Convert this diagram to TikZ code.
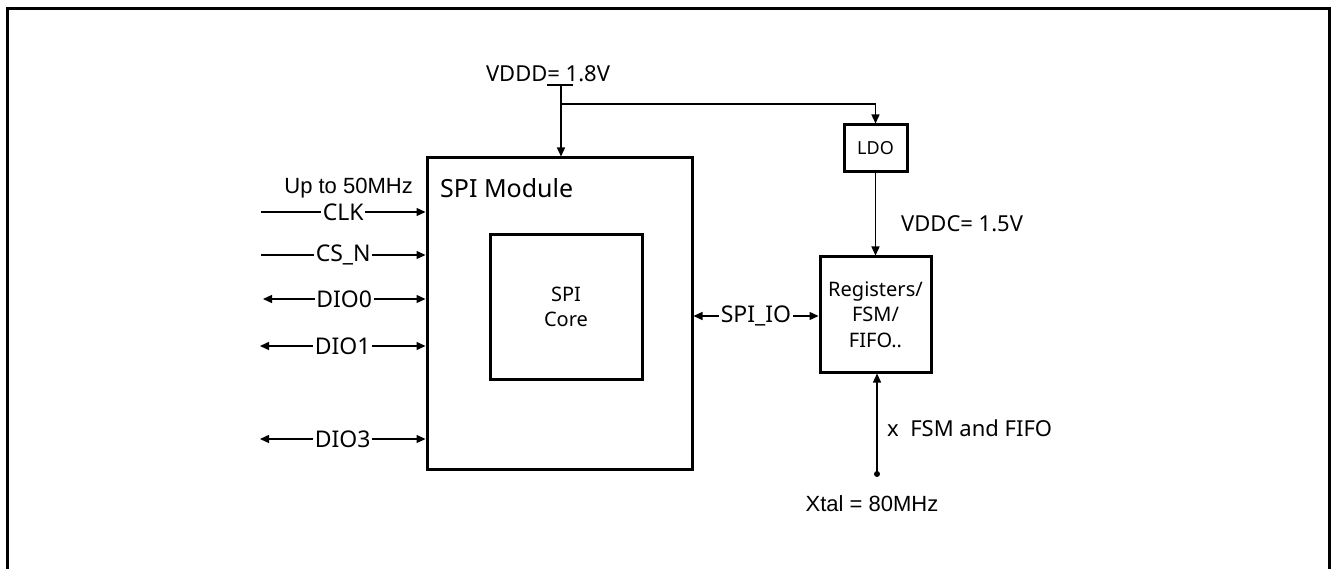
\documentclass[tikz,border=0pt]{standalone}
\usepackage{fontspec}
\setmainfont{Noto Sans}
\newfontfamily\arialf{Liberation Sans}
\usetikzlibrary{arrows.meta}
\begin{document}
\begin{tikzpicture}[x=1pt,y=-1pt,
  blk/.style={draw, line width=3pt, inner sep=0pt, align=center},
  conn/.style={line width=1.4pt, arrows={-Triangle[length=9pt,width=8pt]}},
  bconn/.style={line width=1.4pt, arrows={Triangle[length=9pt,width=8pt]-Triangle[length=9pt,width=8pt]}},
  lbl/.style={fill=white, inner sep=1.5pt, font=\fontsize{23}{27}\selectfont},
  txt/.style={inner sep=0pt, font=\fontsize{22}{26}\selectfont}]
\useasboundingbox (0,0) rectangle (1331,569);
\draw[line width=3pt] (7,569) -- (7,9) -- (1329,9) -- (1329,569);

% blocks
\node[blk, minimum width=265pt, minimum height=311pt] (spi) at (559.5,313.5) {};
\node[blk, minimum width=152pt, minimum height=144pt, font=\fontsize{20}{25}\selectfont] (core) at (566,307) {SPI\\Core};
\node[blk, minimum width=63pt, minimum height=47pt, font=\fontsize{18}{22}\selectfont] (ldo) at (875.5,148.5) {LDO};
\node[blk, minimum width=111pt, minimum height=115pt, font=\fontsize{20}{25.5}\selectfont] (reg) at (875.5,314.5) {Registers/\\FSM/\\FIFO..};
\node[anchor=base west, inner sep=0pt, font=\fontsize{25}{30}\selectfont] (spilbl) at (440,198) {SPI Module};

% left signals
\node[anchor=east, inner sep=0pt, font=\arialf\fontsize{22}{26}\selectfont] (upto) at (413,188) {Up to 50MHz};
\coordinate (clkS) at (261,212);
\coordinate (csS) at (261,255);
\coordinate (d0S) at (263,299);
\coordinate (d1S) at (260,346);
\coordinate (d3S) at (260,439);
\draw[conn] (clkS) -- node[lbl] (clk) {CLK} (clkS -| spi.west);
\draw[conn] (csS) -- node[lbl] (cs) {CS\_N} (csS -| spi.west);
\draw[bconn] (d0S) -- node[lbl] (d0) {DIO0} (d0S -| spi.west);
\draw[bconn] (d1S) -- node[lbl] (d1) {DIO1} (d1S -| spi.west);
\draw[bconn] (d3S) -- node[lbl] (d3) {DIO3} (d3S -| spi.west);

% supply
\node[txt] (vddd) at (548,74) {VDDD= 1.8V};
\coordinate (vtap) at (561,85);
\coordinate (br) at (561,104);
\draw[line width=1.4pt] ([xshift=-14pt]vtap) -- ([xshift=12pt]vtap);
\draw[conn] (vtap) -- (vtap |- spi.north);
\draw[conn] (br) -| (ldo.north);
\draw[conn] (ldo.south) -- (reg.north);
\node[txt, anchor=west] (vddc) at (901,224) {VDDC= 1.5V};

% SPI_IO
\coordinate (ioL) at (692,316);
\draw[bconn] (spi.east |- ioL) -- node[lbl] (io) {SPI\_IO} (reg.west |- ioL);

% Xtal
\coordinate (xtal) at (877,474);
\fill (xtal) circle (3pt);
\draw[conn] (xtal) -- (xtal |- reg.south);
\node[txt, anchor=west] (fsm) at (887,428) {x\ \ FSM and FIFO};
\node[txt, font=\arialf\fontsize{22}{26}\selectfont] (xl) at (872,504) {Xtal = 80MHz};
\end{tikzpicture}
\end{document}
